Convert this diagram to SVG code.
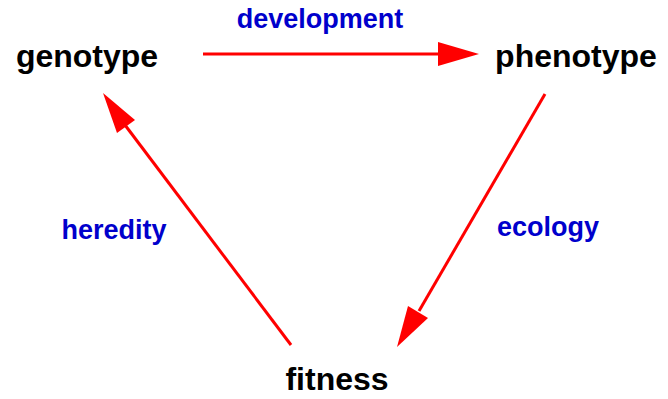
<svg xmlns="http://www.w3.org/2000/svg" width="668" height="399" viewBox="0 0 668 399">
<style>
.node{font-family:"Liberation Sans",Arial,sans-serif;font-weight:bold;font-size:32px;fill:#000;text-anchor:middle}
.lbl{font-family:"Liberation Sans",Arial,sans-serif;font-weight:bold;font-size:27px;fill:#0000cc;text-anchor:middle}
.edge{stroke:#ff0000;stroke-width:3;fill:none}
.head{fill:#ff0000}
</style>
<rect width="668" height="399" fill="#fff"/>
<g id="genotype"><text class="node" x="87" y="67">genotype</text></g>
<g id="phenotype"><text class="node" x="576" y="67">phenotype</text></g>
<g id="fitness"><text class="node" x="337" y="390">fitness</text></g>
<g id="connectors">
<g id="e1"><line class="edge" x1="203" y1="54" x2="440" y2="54"/><polygon class="head" points="479,54 438,42 438,66"/></g>
<g id="e2"><line class="edge" x1="545" y1="94" x2="419" y2="311"/><polygon class="head" points="397,347 408,306 428,318"/></g>
<g id="e3"><line class="edge" x1="291" y1="345" x2="125" y2="125"/><polygon class="head" points="103,93 135,120 117,133"/></g>
<text class="lbl" x="320" y="28">development</text>
<text class="lbl" x="114" y="239">heredity</text>
<text class="lbl" x="548" y="236">ecology</text>
</g>
</svg>
